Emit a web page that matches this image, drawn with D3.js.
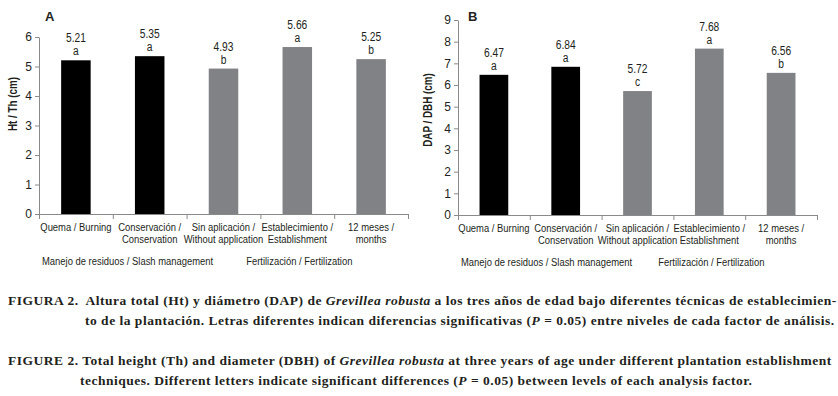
<!DOCTYPE html>
<html>
<head>
<meta charset="utf-8">
<script src="https://cdn.jsdelivr.net/npm/d3@7"></script>
<style>
  html, body { margin: 0; padding: 0; background: #fff; }
  svg { display: block; }
  .chart text { font-family: 'Liberation Sans', Arial, sans-serif; fill: #231f20; }
  .caption text { font-family: 'Liberation Serif', 'DejaVu Serif', serif; font-weight: bold; font-size: 13.5px; letter-spacing: 0.5px; fill: #231f20; }
</style>
</head>
<body>
<div id="chart"></div>
<script>
// categories (two-line tick labels)
const categories = [
    ['Quema / Burning'],
    ['Conservación /', 'Conservation'],
    ['Sin aplicación /', 'Without application'],
    ['Establecimiento /', 'Establishment'],
    ['12 meses /', 'months']
];
const categoryGroup = [0, 0, 1, 1, 1];
const groupLabels = ['Manejo de residuos / Slash management', 'Fertilización / Fertilization'];

// panel A: total height
const heightValues = [5.21, 5.35, 4.93, 5.66, 5.25];
const heightLetters = ['a', 'a', 'b', 'a', 'b'];
const heightTicks = [0, 1, 2, 3, 4, 5, 6];

// panel B: diameter
const diameterValues = [6.47, 6.84, 5.72, 7.68, 6.56];
const diameterLetters = ['a', 'a', 'c', 'a', 'b'];
const diameterTicks = [0, 1, 2, 3, 4, 5, 6, 7, 8, 9];

// caption lines
const captionLines = [
    [['FIGURA 2.  Altura total (Ht) y diámetro (DAP) de ', false], ['Grevillea robusta', true], [' a los tres años de edad bajo diferentes técnicas de establecimien-', false]],
    [['to de la plantación. Letras diferentes indican diferencias significativas (', false], ['P', true], [' = 0.05) entre niveles de cada factor de análisis.', false]],
    [['FIGURE 2. Total height (Th) and diameter (DBH) of ', false], ['Grevillea robusta', true], [' at three years of age under different plantation establishment', false]],
    [['techniques. Different letters indicate significant differences (', false], ['P', true], [' = 0.05) between levels of each analysis factor.', false]]
];

const width = 838;
const height = 396;
const groupColors = ['#000000', '#808285'];
const axisColor = '#8a8a8a';
const narrow = 0.82; // the original uses a narrow sans face

const svg = d3.select('#chart')
    .append('svg')
    .attr('width', width)
    .attr('height', height);

const chart = svg.append('g').attr('class', 'chart');

// narrow text: squeeze horizontally around its anchor point
function narrowText(parent, x, y, size, anchor) {
    return parent.append('text')
        .attr('transform', `translate(${x},${y}) scale(${narrow},1)`)
        .attr('text-anchor', anchor || 'middle')
        .attr('font-size', size);
}

function drawPanel(opt) {
    const g = chart.append('g');

    const x = d3.scaleBand()
        .domain(d3.range(categories.length))
        .range([opt.left, opt.right])
        .paddingInner(0.6)
        .paddingOuter(0.3);

    const xEdges = d3.scaleLinear()
        .domain([0, categories.length])
        .range([opt.left, opt.right]);

    const y = d3.scaleLinear()
        .domain([0, d3.max(opt.ticks)])
        .range([opt.bottom, opt.top]);

    const cx = i => x(i) + x.bandwidth() / 2;

    // bars
    g.selectAll('rect.bar')
        .data(opt.values)
        .enter().append('rect')
        .attr('class', 'bar')
        .attr('x', (d, i) => x(i))
        .attr('width', x.bandwidth())
        .attr('y', d => y(d))
        .attr('height', d => y(0) - y(d))
        .attr('fill', (d, i) => groupColors[categoryGroup[i]]);

    // value and letter labels
    opt.values.forEach((v, i) => {
        narrowText(g, cx(i), y(v) - 18, 12.5).text(v.toFixed(2));
        narrowText(g, cx(i), y(v) - 5, 12.5).text(opt.letters[i]);
    });

    // y axis
    const yAxis = g.append('g')
        .attr('transform', `translate(${opt.left},0)`)
        .call(d3.axisLeft(y).tickValues(opt.ticks).tickSize(4).tickSizeOuter(0).tickPadding(3).tickFormat(d3.format('d')));
    yAxis.select('.domain').attr('stroke', axisColor);
    yAxis.selectAll('.tick line').attr('stroke', axisColor);
    yAxis.selectAll('.tick text').attr('font-size', 12).attr('font-family', null).style('fill', '#231f20');

    // x axis with ticks at category boundaries
    const xAxis = g.append('g')
        .attr('transform', `translate(0,${opt.bottom})`)
        .call(d3.axisBottom(xEdges).tickValues(d3.range(categories.length + 1)).tickSize(5).tickSizeOuter(0).tickFormat(''));
    xAxis.select('.domain').attr('stroke', axisColor);
    xAxis.selectAll('.tick line').attr('stroke', axisColor);

    // category labels
    categories.forEach((lines, i) => {
        const t = narrowText(g, cx(i), opt.bottom, 11.5);
        lines.forEach((s, j) => {
            t.append('tspan').attr('x', 0).attr('y', 17 + j * 12).text(s);
        });
    });

    // group labels
    narrowText(g, opt.left + 3, opt.bottom + 51, 11.5, 'start').text(groupLabels[0]);
    narrowText(g, (x(2) + x(4) + x.bandwidth()) / 2 + opt.groupShift, opt.bottom + 51, 11.5).text(groupLabels[1]);

    // y title
    g.append('text')
        .attr('transform', `translate(${opt.titleX},${opt.titleY}) rotate(-90) scale(${narrow},1)`)
        .attr('text-anchor', 'middle')
        .attr('font-size', 12)
        .attr('font-weight', 'bold')
        .text(opt.yTitle);

    // panel letter
    g.append('text')
        .attr('x', opt.letterX)
        .attr('y', 21)
        .attr('font-size', 13)
        .attr('font-weight', 'bold')
        .text(opt.panel);
}

drawPanel({
    values: heightValues, letters: heightLetters, ticks: heightTicks,
    left: 39, right: 408, top: 37, bottom: 214,
    yTitle: 'Ht / Th (cm)', titleX: 17, titleY: 104,
    panel: 'A', letterX: 45, groupShift: 2
});

drawPanel({
    values: diameterValues, letters: diameterLetters, ticks: diameterTicks,
    left: 458, right: 817, top: 20, bottom: 215,
    yTitle: 'DAP / DBH (cm)', titleX: 432, titleY: 110,
    panel: 'B', letterX: 468, groupShift: 2
});

// caption
const caption = svg.append('g').attr('class', 'caption');
const lineX = [8, 85, 8, 80];
const lineY = [305, 325, 365, 385];
const justify = [true, true, true, false];
const rightEdge = 831;

captionLines.forEach((parts, i) => {
    const t = caption.append('text')
        .attr('x', lineX[i])
        .attr('y', lineY[i])
        .attr('xml:space', 'preserve')
        .style('white-space', 'pre');
    parts.forEach(p => {
        t.append('tspan')
            .style('font-style', p[1] ? 'italic' : 'normal')
            .text(p[0]);
    });
    if (justify[i]) {
        const w = t.node().getComputedTextLength();
        const spaces = parts.map(p => p[0]).join('').split(' ').length - 1;
        t.attr('word-spacing', Math.max(0, (rightEdge - lineX[i] - w) / spaces));
    }
});
</script>
</body>
</html>
